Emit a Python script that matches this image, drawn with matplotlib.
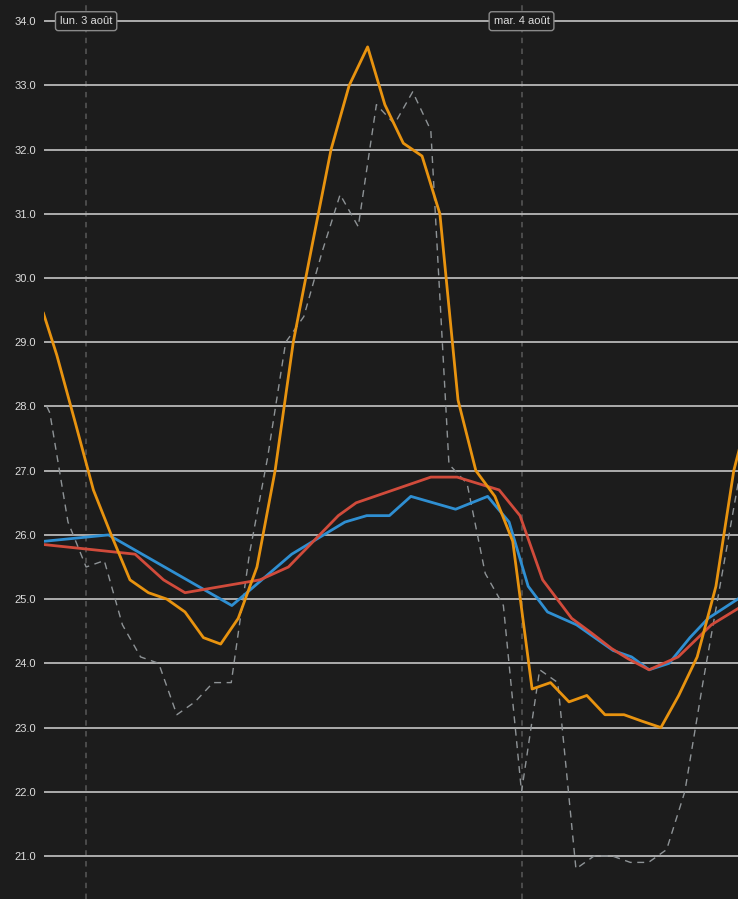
import matplotlib
matplotlib.use("Agg")
import matplotlib.pyplot as plt
import matplotlib.dates as mdates
import pandas as pd

plt.rcParams['font.family'] = ['Liberation Sans', 'DejaVu Sans']

# ---- données (août 2020) ----
# extérieur (orange)
orange_t = ["02 21:39", "02 22:23", "02 23:24", "03 00:24", "03 01:23", "03 02:25",
            "03 03:26", "03 04:27", "03 05:27", "03 06:28", "03 07:25", "03 08:23",
            "03 09:25", "03 10:25", "03 11:25", "03 12:27", "03 13:30", "03 14:30",
            "03 15:31", "03 16:28", "03 17:29", "03 18:31", "03 19:30", "03 20:30",
            "03 21:29", "03 22:32", "03 23:31", "04 00:35", "04 01:36", "04 02:37",
            "04 03:36", "04 04:36", "04 05:39", "04 06:38", "04 07:41", "04 08:40",
            "04 09:41", "04 10:43", "04 11:42", "04 12:42"]
orange_v = [29.45, 28.8, 27.75, 26.7, 26.0, 25.3,
            25.1, 25.0, 24.8, 24.4, 24.3, 24.7,
            25.5, 27.0, 29.0, 30.5, 32.0, 33.0,
            33.6, 32.7, 32.1, 31.9, 31.0, 28.1,
            27.0, 26.6, 25.9, 23.6, 23.7, 23.4,
            23.5, 23.2, 23.2, 23.1, 23.0, 23.5,
            24.1, 25.2, 27.0, 28.1]

# prévision / autre capteur (gris pointillé)
grey_t = ["02 21:50", "02 22:00", "02 23:00", "03 00:00", "03 01:00", "03 02:00",
          "03 03:00", "03 04:00", "03 05:00", "03 06:00", "03 07:00", "03 08:00",
          "03 09:00", "03 10:00", "03 11:00", "03 12:00", "03 13:00", "03 14:00",
          "03 15:00", "03 16:00", "03 17:00", "03 18:00", "03 19:00", "03 20:00",
          "03 21:00", "03 22:00", "03 23:00", "04 00:00", "04 01:00", "04 02:00",
          "04 03:00", "04 04:00", "04 05:00", "04 06:00", "04 07:00", "04 08:00",
          "04 09:00", "04 10:00", "04 11:00", "04 12:00"]
grey_v = [28.0, 27.9, 26.2, 25.5, 25.6, 24.6,
          24.1, 24.0, 23.2, 23.4, 23.7, 23.7,
          25.7, 27.2, 29.0, 29.4, 30.4, 31.3,
          30.8, 32.7, 32.4, 32.9, 32.3, 27.1,
          26.8, 25.4, 24.9, 22.0, 23.9, 23.7,
          20.8, 21.0, 21.0, 20.9, 20.9, 21.1,
          22.0, 23.7, 25.3, 26.9]

# intérieur 1 (rouge)
red_t = ["02 21:40", "03 02:42", "03 04:16", "03 05:27", "03 09:35", "03 11:09",
         "03 13:54", "03 14:53", "03 19:00", "03 20:27", "03 22:46", "03 23:55",
         "04 01:10", "04 02:46", "04 03:52", "04 04:58", "04 05:53", "04 07:02",
         "04 08:38", "04 10:28", "04 11:55"]
red_v = [25.85, 25.7, 25.3, 25.1, 25.3, 25.5,
         26.3, 26.5, 26.9, 26.9, 26.7, 26.3,
         25.3, 24.7, 24.47, 24.23, 24.07, 23.9,
         24.1, 24.6, 24.85]

# intérieur 2 (bleu)
blue_t = ["02 21:40", "03 01:14", "03 08:02", "03 11:20", "03 14:16", "03 15:28",
          "03 16:43", "03 17:54", "03 20:22", "03 22:08", "03 23:19", "04 00:22",
          "04 01:26", "04 03:02", "04 05:03", "04 06:04", "04 07:02", "04 08:08",
          "04 09:17", "04 10:17", "04 11:55"]
blue_v = [25.9, 26.0, 24.9, 25.7, 26.2, 26.3,
          26.3, 26.6, 26.4, 26.6, 26.2, 25.2,
          24.8, 24.6, 24.2, 24.1, 23.9, 24.0,
          24.4, 24.7, 25.0]

days = ["03 00:00", "04 00:00"]
day_labels = ["lun. 3 août", "mar. 4 août"]
x_range = ["02 21:39", "04 11:56"]
y_ticks = list(range(21, 35))


def dates(lst):
    return pd.to_datetime(["2020-08-" + s for s in lst])


BG = '#1c1c1c'
fig = plt.figure(figsize=(7.38, 8.99), dpi=100, facecolor=BG)
ax = fig.add_axes([43.5 / 738, 0, 1 - 43.5 / 738, 1], facecolor=BG)

ax.grid(axis='y', color='#b8b8b8', lw=1.3, zorder=0)
for d in dates(days):
    ax.axvline(d, color='#505050', lw=1.3, dashes=(3, 3), zorder=1)

ax.plot(dates(grey_t), grey_v, color='#8e9396', lw=1, dashes=(5, 4), zorder=2)
ax.plot(dates(blue_t), blue_v, color='#2f8fd2', lw=2, zorder=3)
ax.plot(dates(red_t), red_v, color='#d14b3b', lw=2, zorder=4)
ax.plot(dates(orange_t), orange_v, color='#e8930f', lw=2, zorder=5)

for d, lab in zip(dates(days), day_labels):
    ax.text(d, 34.0, lab, ha='center', va='center', fontsize=8, color='#dddddd', zorder=10,
            bbox=dict(boxstyle='round,pad=0.4,rounding_size=0.25', fc=BG, ec='#8a8a8a', lw=1))

xr = dates(x_range)
ax.set_xlim(xr[0], xr[1])
ax.set_ylim(20.33, 34.33)
ax.set_yticks(y_ticks)
ax.yaxis.set_major_formatter(matplotlib.ticker.FormatStrFormatter('%.1f'))
ax.tick_params(axis='y', length=0, pad=5.5, labelsize=8, labelcolor='#dddddd')
ax.tick_params(axis='x', length=0, labelbottom=False)
ax.xaxis.set_major_locator(mdates.DayLocator())
for s in ax.spines.values():
    s.set_visible(False)

fig.savefig("out.png", dpi=100, facecolor=BG)
